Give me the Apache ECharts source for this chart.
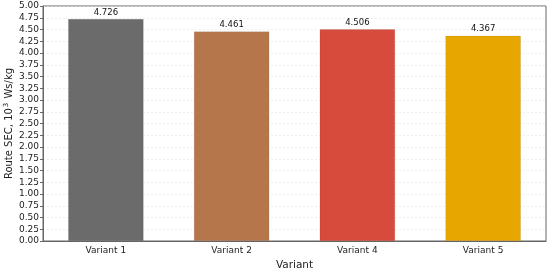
<!DOCTYPE html>
<html>
<head>
<meta charset="utf-8">
<script src="https://cdn.jsdelivr.net/npm/echarts@6/dist/echarts.min.js"></script>
<style>
  html, body { margin: 0; padding: 0; background: #fff; }
  #chart { width: 550px; height: 271px; }
</style>
</head>
<body>
<div id="chart"></div>
<script>
  // data
  const variants = ['Variant 1', 'Variant 2', 'Variant 4', 'Variant 5'];
  const secValues = [4.726, 4.461, 4.506, 4.367];
  const barColors = ['#6b6b6b', '#b5764c', '#d64b3b', '#e8a700'];

  const chart = echarts.init(document.getElementById('chart'), null, { renderer: 'canvas' });
  const axisText = { color: '#222', fontSize: 9, fontFamily: 'DejaVu Sans' };

  chart.setOption({
    animation: false,
    grid: {
      left: 43, right: 4, top: 6, bottom: 30,
      outerBoundsMode: 'none',
      show: true, borderColor: '#666', borderWidth: 1
    },
    xAxis: {
      type: 'category',
      data: variants,
      name: 'Variant',
      nameLocation: 'middle',
      nameGap: 18,
      nameTextStyle: { color: '#222', fontSize: 10.5, fontFamily: 'DejaVu Sans' },
      axisLine: { lineStyle: { color: '#666' } },
      axisTick: { alignWithLabel: true, length: 3, lineStyle: { color: '#666' } },
      axisLabel: Object.assign({ margin: 5 }, axisText)
    },
    yAxis: {
      type: 'value',
      min: 0, max: 5, interval: 0.25,
      name: '{a|Route SEC, 10}{s|3}{a| Ws/kg}',
      nameLocation: 'middle',
      nameGap: 28,
      nameMoveOverlap: false,
      nameTextStyle: {
        color: '#222', fontSize: 10, fontFamily: 'DejaVu Sans',
        rich: {
          a: { fontSize: 10, fontFamily: 'DejaVu Sans', color: '#222' },
          s: { fontSize: 7, fontFamily: 'DejaVu Sans', color: '#222', verticalAlign: 'top', padding: [0, 1, 5, 1] }
        }
      },
      axisLine: { show: true, lineStyle: { color: '#666' } },
      axisTick: { show: true, length: 3, lineStyle: { color: '#666' } },
      axisLabel: Object.assign({ margin: 4, formatter: v => v.toFixed(2) }, axisText),
      splitLine: { lineStyle: { color: '#e4e4e4', type: [2, 2], width: 0.6 } }
    },
    series: [{
      type: 'bar',
      barWidth: '60%',
      data: secValues.map((v, i) => ({
        value: v,
        itemStyle: { color: barColors[i], borderColor: 'rgba(0,0,0,0.12)', borderWidth: 0.6 }
      })),
      label: {
        show: true, position: 'top', distance: 2,
        color: '#111', fontSize: 8.5, fontFamily: 'DejaVu Sans',
        formatter: p => p.value.toFixed(3)
      }
    }]
  });
</script>
</body>
</html>
